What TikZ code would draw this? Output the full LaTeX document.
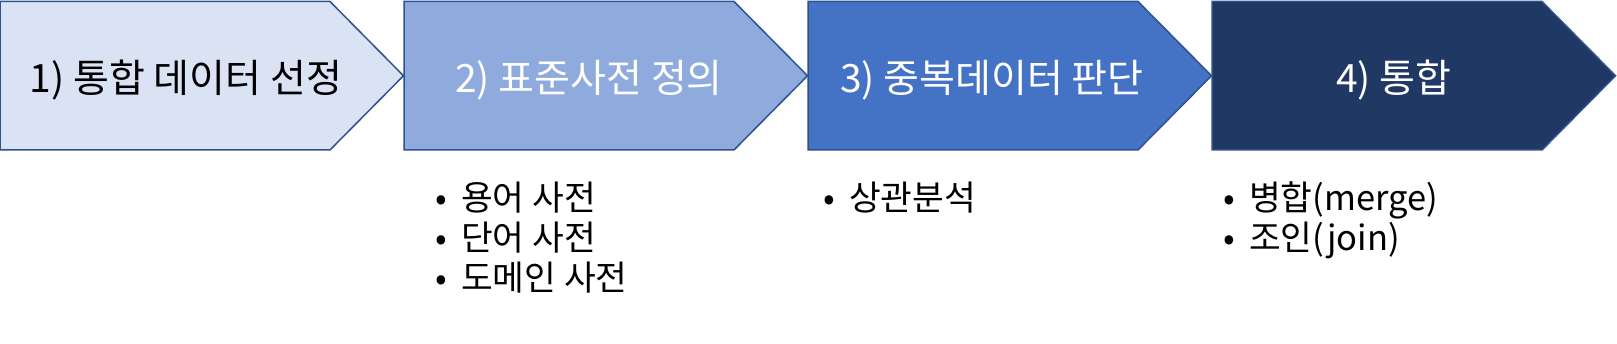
\documentclass[tikz,border=0pt]{standalone}
\usepackage{fontspec}
\setmainfont{Noto Sans CJK KR}
\definecolor{stepA}{HTML}{DAE3F3}
\definecolor{stepB}{HTML}{8FAADC}
\definecolor{stepC}{HTML}{4472C4}
\definecolor{stepD}{HTML}{203864}
\definecolor{edge}{HTML}{2F528F}
\newcommand\bul{\makebox[26pt][l]{\textbullet}}

\begin{document}
\begin{tikzpicture}[x=1pt, y=-1pt,
  chev/.style={draw=edge, line width=1.5pt, line join=miter},
  title/.style={font=\fontsize{39}{44}\selectfont, inner sep=0pt, anchor=base},
  item/.style={font=\fontsize{34.5}{40}\selectfont, inner sep=0pt, anchor=base west}]
  \useasboundingbox (0,0) rectangle (1617,344);
  % four chevrons, each one starting at the tip of the one before
  \foreach \x/\c in {0/stepA, 404/stepB, 808/stepC, 1212/stepD}
    \draw[chev, fill=\c] (\x,1.5) -- ++(330,0) -- ++(73.5,74.25)
      -- ++(-73.5,74.25) -- ++(-330,0) -- cycle;
  % step titles
  \node[title] (sel) at (186,93) {1) 통합 데이터 선정};
  \node[title, white] (dict) at (589,93) {2) 표준사전 정의};
  \node[title, white] (dup) at (992,93) {3) 중복데이터 판단};
  \node[title, white] (merge) at (1394,93) {4) 통합};
  % bullet lists under the steps
  \node[item] (term) at (435,211) {\bul 용어 사전};
  \node[item] (word) at (435,251) {\bul 단어 사전};
  \node[item] (domain) at (435,291) {\bul 도메인 사전};
  \node[item] (corr) at (823,211) {\bul 상관분석};
  \node[item] (mrg) at (1223,211) {\bul 병합(merge)};
  \node[item] (join) at (1223,251) {\bul 조인(join)};
\end{tikzpicture}
\end{document}
